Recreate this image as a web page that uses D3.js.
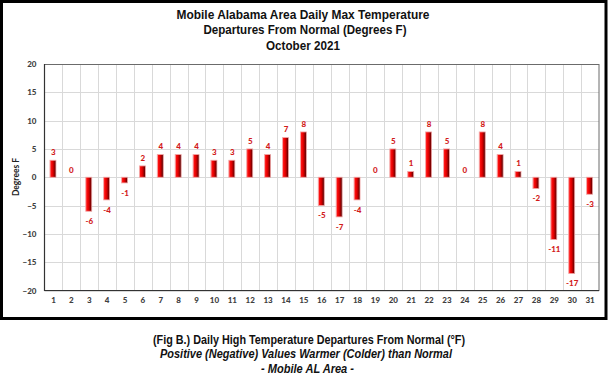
<!DOCTYPE html>
<html><head><meta charset="utf-8">
<script src="https://cdn.jsdelivr.net/npm/d3@7"></script>
<style>html,body{margin:0;padding:0;background:#fff;}svg{display:block;}</style>
</head><body>
<script>
const days = d3.range(1, 32).map(String);
const departures = [3,0,-6,-4,-1,2,4,4,4,3,3,5,4,7,8,-5,-7,-4,0,5,1,8,5,0,8,4,1,-2,-11,-17,-3];
const yTicks = [-20,-15,-10,-5,0,5,10,15,20];
const titleLines = ["Mobile Alabama Area Daily Max Temperature","Departures From Normal (Degrees F)","October 2021"];
const captionLines = ["(Fig B.) Daily High Temperature Departures From Normal (°F)","Positive (Negative) Values Warmer (Colder) than Normal","- Mobile AL Area -"];
const yTitle = "Degrees F";

const W = 608, H = 378;
const svg = d3.select("body").append("svg").attr("width", W).attr("height", H);
const defs = svg.append("defs");
const g = defs.append("linearGradient").attr("id","barg").attr("x1","0").attr("x2","1").attr("y1","0").attr("y2","0");
[["0%","#ff7070"],["18%","#ff1010"],["50%","#dd0000"],["78%","#900000"],["100%","#3a0000"]].forEach(([o,c])=>g.append("stop").attr("offset",o).attr("stop-color",c));

svg.append("rect").attr("width",W).attr("height",H).attr("fill","#fff");
// outer frame
svg.append("rect").attr("x",1.5).attr("y",1.5).attr("width",604.5).attr("height",317).attr("fill","none").attr("stroke","#000").attr("stroke-width",3);

const x = d3.scaleBand().domain(days).range([44.5, 599]).paddingInner(0).paddingOuter(0);
const y = d3.scaleLinear().domain([-20, 20]).range([290.5, 64]);

const font = "Lato, 'Open Sans', sans-serif";
const tfont = "'Liberation Sans', Arial, sans-serif";

// grid
const gridG = svg.append("g");
gridG.selectAll("line.h").data(yTicks).join("line")
  .attr("x1", 44.5).attr("x2", 599).attr("y1", d=>Math.round(y(d))+0.5).attr("y2", d=>Math.round(y(d))+0.5)
  .attr("stroke","#d9d9d9").attr("stroke-width",1);
gridG.selectAll("line.v").data(days.slice(1)).join("line")
  .attr("x1", d=>Math.round(x(d))+0.5).attr("x2", d=>Math.round(x(d))+0.5).attr("y1", 64).attr("y2", 290.5)
  .attr("stroke","#d9d9d9").attr("stroke-width",1);

// plot border
svg.append("rect").attr("x",44.5).attr("y",64.5).attr("width",554.5).attr("height",226).attr("fill","none").attr("stroke","#6b6b6b").attr("stroke-width",1);
svg.append("line").attr("x1",44.5).attr("x2",44.5).attr("y1",64).attr("y2",291).attr("stroke","#333").attr("stroke-width",1.2);
svg.append("line").attr("x1",44).attr("x2",599).attr("y1",290.5).attr("y2",290.5).attr("stroke","#333").attr("stroke-width",1.2);

// axes
const yAxis = d3.axisLeft(y).tickValues(yTicks).tickSize(0).tickPadding(8);
const ya = svg.append("g").attr("transform","translate(44.5,0)").call(yAxis);
ya.select(".domain").remove();
ya.selectAll("text").attr("font-family",font).attr("font-weight","900").attr("font-size",8).attr("fill","#404040");

const xAxis = d3.axisBottom(x).tickSize(0).tickPadding(7);
const xa = svg.append("g").attr("transform","translate(0,290.5)").call(xAxis);
xa.select(".domain").remove();
xa.selectAll("text").attr("font-family",font).attr("font-weight","900").attr("font-size",8).attr("fill","#404040");

// bars
const bw = 6;
const data = days.map((d,i)=>({day:d, v:departures[i]}));
svg.append("g").selectAll("rect").data(data.filter(d=>d.v!==0)).join("rect")
  .attr("x", d=>x(d.day)+x.bandwidth()/2-bw/2-0.5)
  .attr("y", d=>y(Math.max(0,d.v)))
  .attr("width", bw)
  .attr("height", d=>Math.abs(y(d.v)-y(0)))
  .attr("fill","url(#barg)")
  .attr("stroke","#f3a3a3").attr("stroke-width",0.8);

// value labels
svg.append("g").selectAll("text").data(data).join("text")
  .attr("x", d=>x(d.day)+x.bandwidth()/2)
  .attr("y", d=> d.v>0 ? y(d.v)-8 : d.v<0 ? y(d.v)+10 : y(0)-7)
  .attr("dy","0.35em")
  .attr("text-anchor","middle")
  .attr("font-family",font).attr("font-weight","900").attr("font-size",8).attr("fill","#d21a1a")
  .text(d=>d.v);

// y title
svg.append("text").attr("transform","translate(16,177) rotate(-90)").attr("text-anchor","middle").attr("dy","0.35em")
  .attr("font-family",font).attr("font-weight","bold").attr("font-size",8.5).attr("fill","#222").text(yTitle);

// titles
const tY = [14, 29.5, 45], tW = [253, 203, 74], tX = [303, 305, 303];
titleLines.forEach((t,i)=>{
  svg.append("text").attr("x",tX[i]).attr("y",tY[i]).attr("dy","0.35em").attr("text-anchor","middle")
    .attr("font-family",tfont).attr("font-weight","bold").attr("font-size",13).attr("fill","#111")
    .attr("textLength",tW[i]).attr("lengthAdjust","spacingAndGlyphs").text(t);
});
const cY = [339.5, 354, 369], cW = [312, 292, 93], cX = [309, 306, 307.5];
captionLines.forEach((t,i)=>{
  svg.append("text").attr("x",cX[i]).attr("y",cY[i]).attr("dy","0.35em").attr("text-anchor","middle")
    .attr("font-family",tfont).attr("font-weight","bold").attr("font-style", i>0?"italic":"normal").attr("font-size",12.3).attr("fill","#111")
    .attr("textLength",cW[i]).attr("lengthAdjust","spacingAndGlyphs").text(t);
});
</script>
</body></html>
